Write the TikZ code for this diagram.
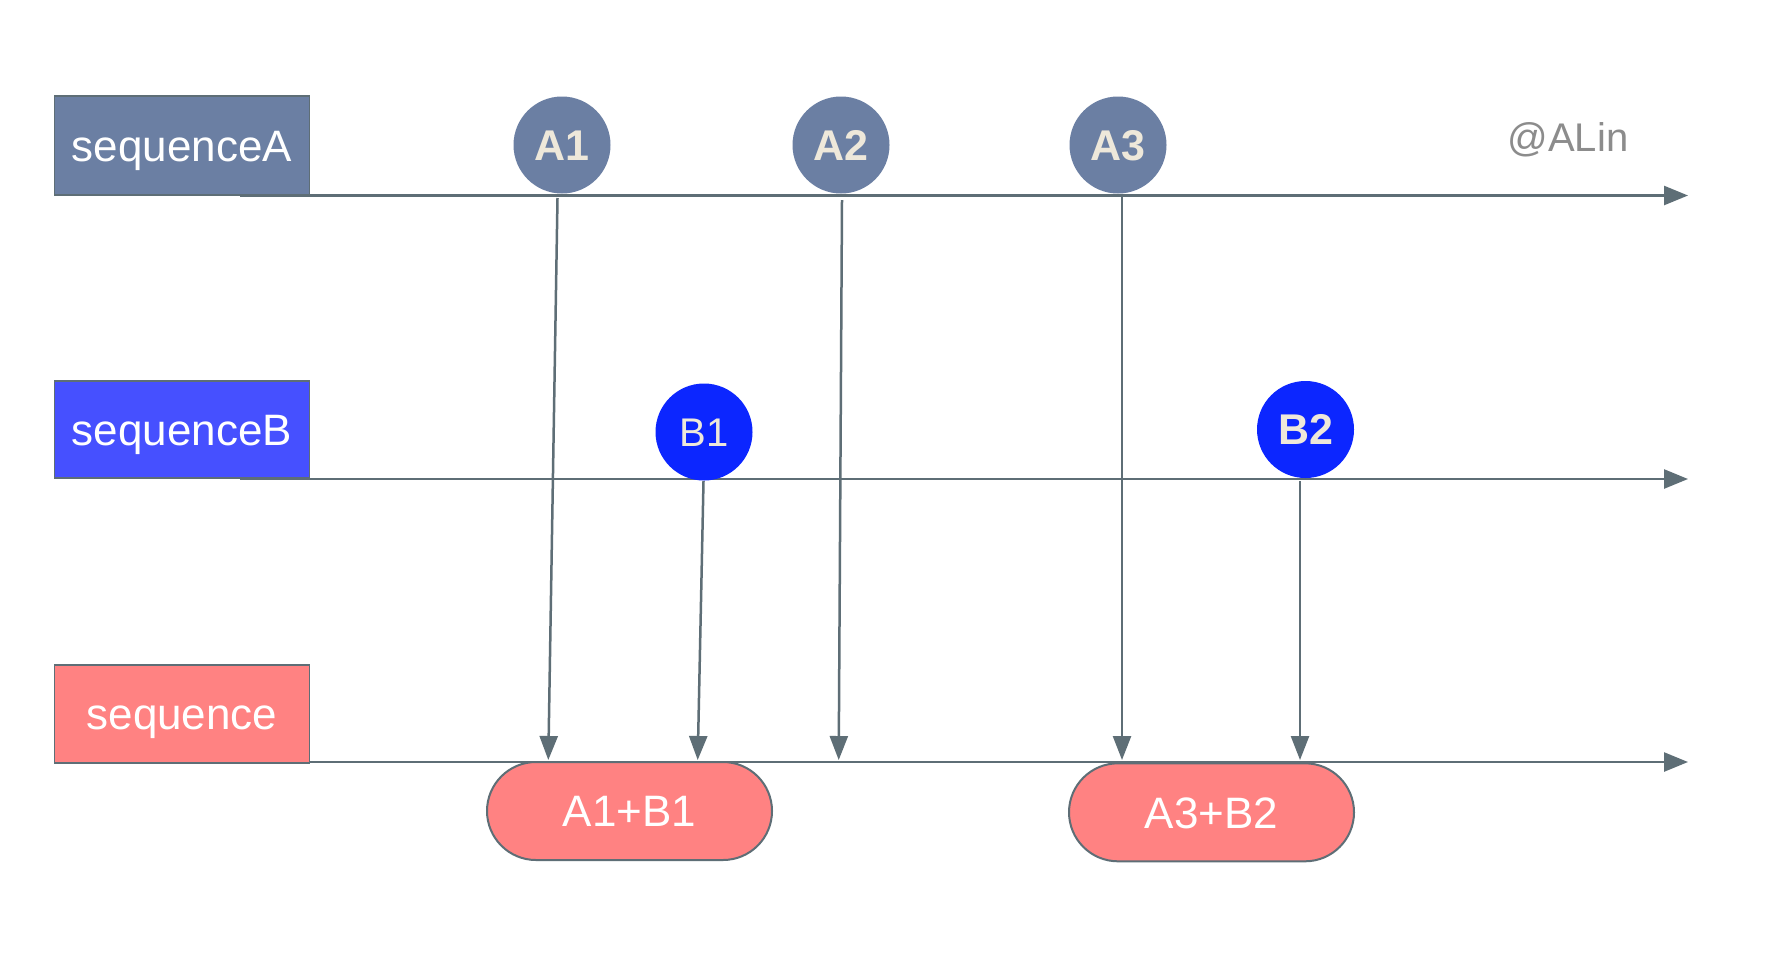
\documentclass[tikz,border=0pt]{standalone}
\usepackage{fontspec}
\setmainfont{Liberation Sans}
\usetikzlibrary{arrows.meta}
\definecolor{slate}{RGB}{107,127,163}
\definecolor{cream}{RGB}{238,232,218}
\definecolor{seqblue}{RGB}{70,80,255}
\definecolor{dotblue}{RGB}{12,38,255}
\definecolor{salmon}{RGB}{255,130,130}
\definecolor{linegray}{RGB}{94,110,118}
\definecolor{signgray}{RGB}{140,140,140}
\tikzset{
  seqlabel/.style={rectangle, draw=linegray, line width=0.75pt, minimum width=127.5pt,
    minimum height=49pt, inner sep=0pt, text=white, font=\fontsize{22pt}{26pt}\selectfont,
    text height=15.8pt, text depth=0pt},
  event/.style={circle, minimum size=48.5pt, inner sep=0pt, text=cream,
    font=\fontsize{21.5pt}{25pt}\selectfont\bfseries, text height=15.4pt, text depth=0pt},
  eventlight/.style={circle, minimum size=48.5pt, inner sep=0pt, text=cream,
    font=\fontsize{20pt}{24pt}\selectfont, text height=14.4pt, text depth=0pt},
  pill/.style={rectangle, rounded corners=24.5pt, fill=salmon, draw=linegray, line width=1pt,
    minimum width=142.5pt, minimum height=49pt, inner sep=0pt, text=white,
    font=\fontsize{22pt}{26pt}\selectfont, text height=15.8pt, text depth=0pt},
  timeline/.style={draw=linegray, line width=1.25pt,
    -{Triangle[length=12pt,width=9.5pt]}},
  feed/.style={draw=linegray, line width=1.25pt,
    -{Triangle[length=12pt,width=9pt]}}
}
\begin{document}
\begin{tikzpicture}[x=0.5pt,y=-0.5pt]
\useasboundingbox[fill=white] (0,0) rectangle (1770,970);

% timeline coordinates
\coordinate (aS) at (240,195.5);
\coordinate (aE) at (1688,195.5);
\coordinate (bS) at (240,479);
\coordinate (bE) at (1688,479);
\coordinate (cS) at (309,762);
\coordinate (cE) at (1688,762);

% timelines
\draw[timeline] (aS) -- (aE);
\draw[timeline] (bS) -- (bE);
\draw[timeline] (cS) -- (cE);

% sequence labels
\node[seqlabel, fill=slate, minimum height=49.5pt] (seqA) at (182,145.5) {sequenceA};
\node[seqlabel, fill=seqblue, minimum height=48.5pt] (seqB) at (182,429.5) {sequenceB};
\node[seqlabel, fill=salmon] (seqC) at (182,714) {sequence};

% events
\node[event, fill=slate] (A1) at (562,145) {A1};
\node[event, fill=slate] (A2) at (841,145) {A2};
\node[event, fill=slate] (A3) at (1118,145) {A3};
\node[eventlight, fill=dotblue] (B1) at (704,432) {B1};
\node[event, fill=dotblue] (B2) at (1305.5,429.5) {B2};

% results
\node[pill] (AB1) at (629.5,811) {A1+B1};
\node[pill] (AB2) at (1211.5,812.3) {A3+B2};

% signature
\node[text=signgray, font=\fontsize{20pt}{24pt}\selectfont, anchor=base] (sig) at (1568,151.7) {@ALin};

% feed coordinates
\coordinate (a1top) at (557.5,198);
\coordinate (a1tip) at (548.3,760);
\coordinate (a2top) at (842,200);
\coordinate (a2tip) at (838.7,760);
\coordinate (a3top) at (1122,197);
\coordinate (a3tip) at (1122,760);
\coordinate (b1top) at (703.5,481);
\coordinate (b1tip) at (697.7,760);
\coordinate (b2top) at (1300,481);
\coordinate (b2tip) at (1300,760);

% feeds
\draw[feed] (a1top) -- (a1tip);
\draw[feed] (a2top) -- (a2tip);
\draw[feed] (a3top) -- (a3tip);
\draw[feed] (b1top) -- (b1tip);
\draw[feed] (b2top) -- (b2tip);
\end{tikzpicture}
\end{document}
